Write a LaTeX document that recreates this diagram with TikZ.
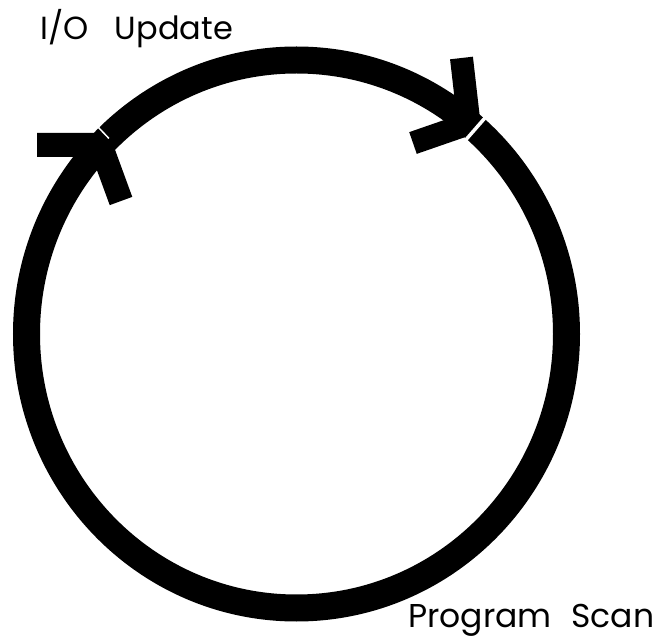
\documentclass[tikz,border=0pt]{standalone}
\usepackage{fontspec}
\setmainfont{Poppins}
\begin{document}
\begin{tikzpicture}[x=1pt,y=-1pt,
  ring/.style={line width=27pt},
  headstroke/.style={line width=24pt, line cap=butt, line join=miter},
  gapline/.style={white, line width=#1},
  lbl/.style={font=\fontsize{32}{32}\selectfont, anchor=base west, inner sep=0pt}]
\useasboundingbox (0,0) rectangle (657,639);
\coordinate (c) at (296.5,334);
\draw[ring] (c) ellipse[x radius=270, y radius=274];
% arrowheads
\coordinate (la1) at (37,145);
\coordinate (lapex) at (100.5,145);
\coordinate (la2) at (121,201);
\draw[headstroke] (la1) -- (lapex) -- (la2);
\coordinate (ra1) at (461.5,58);
\coordinate (rapex) at (469,123.6);
\coordinate (ra2) at (413,143);
\draw[headstroke, line width=23pt] (ra1) -- (rapex) -- (ra2);
% gaps
\coordinate (lg1) at (108.9,138.4);
\coordinate (lg2) at (95.8,124.7);
\draw[gapline=1.5pt] (lg1) -- (lg2);
\coordinate (rg1) at (464.1,141.8);
\coordinate (rg2) at (487.1,115.5);
\draw[gapline=3.5pt] (rg1) -- (rg2);
% labels
\node[lbl] (io) at (40,40) {I/O\hspace{18pt} Update};
\node[lbl, font=\fontsize{33}{33}\selectfont] (ps) at (408,627) {Program\hspace{11pt} Scan};
\end{tikzpicture}
\end{document}
